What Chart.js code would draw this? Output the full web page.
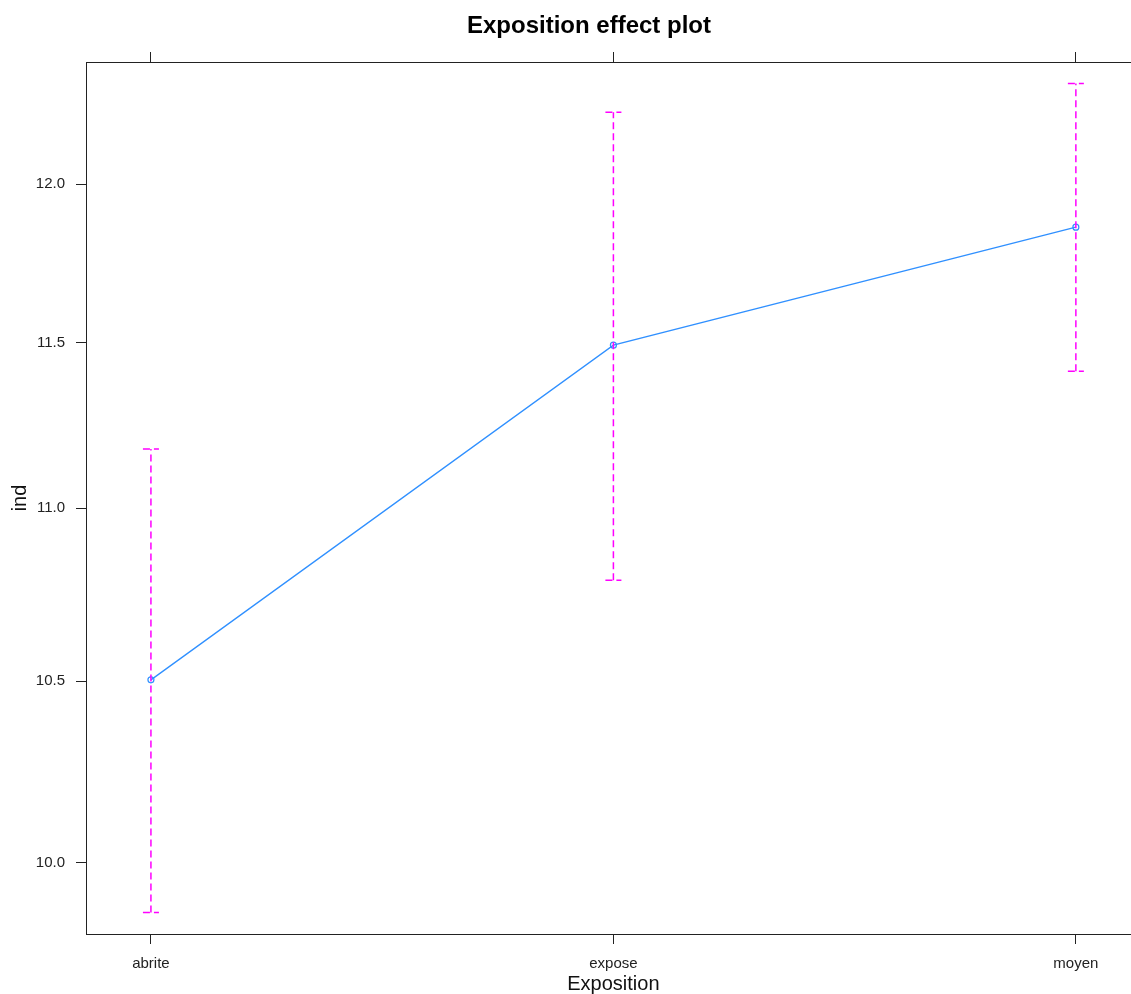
<!DOCTYPE html>
<html>
<head>
<meta charset="utf-8">
<title>Exposition effect plot</title>
<script src="https://cdn.jsdelivr.net/npm/chart.js@4.4.1/dist/chart.umd.min.js"></script>
<style>
  html, body { margin: 0; padding: 0; background: #fff; overflow: hidden; }
  #wrap { width: 1146px; height: 994px; }
</style>
</head>
<body>
<div id="wrap"><canvas id="myChart" width="1146" height="994"></canvas></div>
<script>
'use strict';

// values (y axis is on a log scale)
const categories = ['abrite', 'expose', 'moyen'];
const fitValues = [10.504, 11.492, 11.862];
const lowerValues = [9.868, 10.789, 11.412];
const upperValues = [11.176, 12.234, 12.329];
const yTicks = [10.0, 10.5, 11.0, 11.5, 12.0];

const chartTitle = 'Exposition effect plot';
const xTitle = 'Exposition';
const yTitle = 'ind';

const fontFamily = '"Liberation Sans", Arial, Helvetica, sans-serif';
const axisColor = '#222';
const lineColor = '#3090ff';
const barColor = '#ff00ff';

const chartCanvas = document.getElementById('myChart');

// dashed error bars with caps, drawn through the chart's scales
const errorBarPlugin = {
  id: 'errorBars',
  afterDatasetsDraw(chart) {
    const ctx = chart.ctx;
    const xScale = chart.scales.x;
    const yScale = chart.scales.y;
    ctx.save();
    ctx.strokeStyle = barColor;
    ctx.lineWidth = 1.5;
    ctx.setLineDash([7, 4]);
    for (let i = 0; i < categories.length; i++) {
      const px = xScale.getPixelForValue(i);
      const top = yScale.getPixelForValue(upperValues[i]);
      const bottom = yScale.getPixelForValue(lowerValues[i]);
      ctx.beginPath();
      ctx.moveTo(px, bottom);
      ctx.lineTo(px, top);
      ctx.stroke();
      ctx.beginPath();
      ctx.moveTo(px - 8, top);
      ctx.lineTo(px + 8, top);
      ctx.moveTo(px - 8, bottom);
      ctx.lineTo(px + 8, bottom);
      ctx.stroke();
    }
    ctx.restore();
  }
};

// box round the panel and the main title
const framePlugin = {
  id: 'frame',
  afterDraw(chart) {
    const ctx = chart.ctx;
    const area = chart.chartArea;
    ctx.save();
    ctx.strokeStyle = axisColor;
    ctx.lineWidth = 1;
    ctx.strokeRect(area.left + 0.5, area.top + 0.5, area.right - area.left, area.bottom - area.top);
    ctx.fillStyle = '#000';
    ctx.font = 'bold 24px ' + fontFamily;
    ctx.textAlign = 'center';
    ctx.textBaseline = 'middle';
    ctx.fillText(chartTitle, 589, 26);
    ctx.restore();
  }
};

function categoryTicks(scale) {
  scale.ticks = categories.map((c, i) => ({ value: i }));
}

const xMin = -0.1404;
const xMax = 2.1404;

new Chart(chartCanvas, {
  type: 'line',
  data: {
    datasets: [{
      label: 'fit',
      data: fitValues.map((v, i) => ({ x: i, y: v })),
      borderColor: lineColor,
      borderWidth: 1.3,
      pointRadius: 3,
      pointBorderWidth: 1.2,
      pointBackgroundColor: 'rgba(0,0,0,0)',
      pointBorderColor: lineColor,
      tension: 0
    }]
  },
  options: {
    responsive: false,
    animation: false,
    layout: { padding: 0 },
    plugins: {
      legend: { display: false },
      tooltip: { enabled: false },
      title: { display: false }
    },
    scales: {
      x: {
        type: 'linear',
        position: 'bottom',
        min: xMin,
        max: xMax,
        afterBuildTicks: categoryTicks,
        afterFit(scale) { scale.height = 60; },
        grid: { display: true, drawOnChartArea: false, tickLength: 10, color: axisColor },
        border: { display: true, color: axisColor },
        ticks: {
          padding: 11,
          color: axisColor,
          font: { family: fontFamily, size: 15 },
          maxRotation: 0,
          callback: (v) => categories[v]
        },
        title: {
          display: true,
          text: xTitle,
          color: '#111',
          font: { family: fontFamily, size: 20, lineHeight: 1 },
          padding: { top: 0, bottom: 0 }
        }
      },
      x2: {
        type: 'linear',
        position: 'top',
        min: xMin,
        max: xMax,
        afterBuildTicks: categoryTicks,
        afterFit(scale) { scale.height = 62; },
        grid: { display: true, drawOnChartArea: false, tickLength: 10, color: axisColor },
        border: { display: true, color: axisColor },
        ticks: { display: true, callback: () => '' }
      },
      y: {
        type: 'logarithmic',
        position: 'left',
        min: 9.811,
        max: 12.40,
        afterBuildTicks(scale) { scale.ticks = yTicks.map(v => ({ value: v })); },
        afterFit(scale) { scale.width = 86; },
        grid: { display: true, drawOnChartArea: false, tickLength: 10, color: axisColor },
        border: { display: true, color: axisColor },
        ticks: {
          padding: 11,
          color: axisColor,
          font: { family: fontFamily, size: 15 },
          callback: (v) => Number(v).toFixed(1)
        },
        title: {
          display: true,
          text: yTitle,
          color: '#111',
          font: { family: fontFamily, size: 20 },
          padding: { top: 8, bottom: 0 }
        }
      }
    }
  },
  plugins: [errorBarPlugin, framePlugin]
});
</script>
</body>
</html>
